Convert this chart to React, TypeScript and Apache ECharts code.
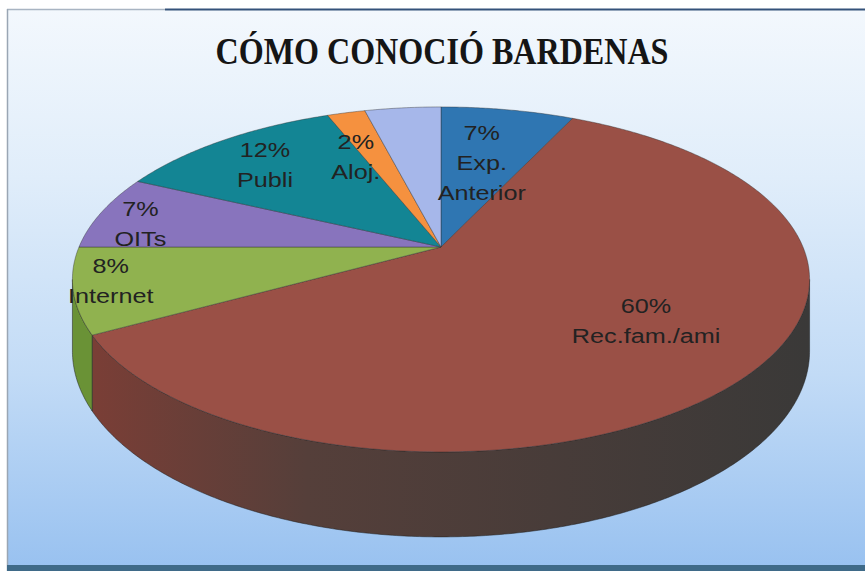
import React, { useEffect, useRef } from 'react';
import * as echarts from 'echarts';

// ---------- data ----------
const TITLE = 'CÓMO CONOCIÓ BARDENAS';
const categories = ['Exp. Anterior', 'Rec.fam./ami', 'Internet', 'OITs', 'Publi', 'Aloj.', 'Otros'];
const values = [7, 60, 8, 7, 12, 2, 4];
const labelNames = ['Exp.\nAnterior', 'Rec.fam./ami', 'Internet', 'OITs', 'Publi', 'Aloj.', ''];
const showLabel = [true, true, true, true, true, true, false];

// ---------- style ----------
const TOP_COLORS = ['#2f76b2', '#9a5046', '#90b24f', '#8874bd', '#138594', '#f5913f', '#a6b7ea'];
const SIDE_COLORS: any[] = [
  '#1f5280',
  new echarts.graphic.LinearGradient(0, 0, 1, 0, [
    { offset: 0, color: '#7a3e36' },
    { offset: 0.3, color: '#553f3a' },
    { offset: 1, color: '#3a3938' },
  ]),
  '#6a9236',
  '#5e5090',
  '#0c5e69',
  '#b86a2c',
  '#7a88b4',
];
// [radius fraction, angular nudge in degrees] for each slice label
const LABEL_PLACE = [
  [0.57, 0],
  [0.665, -5],
  [0.9, 2],
  [0.865, -3],
  [0.763, -1.4],
  [0.657, -5.5],
  [0, 0],
];

const W = 865;
const H = 571;
const CX = 441;
const CY = 247;
const RX = 362;
const RY = 166.4;
const K = 0.188; // perspective factor
const DEPTH = 69;

const total = values.reduce((a, b) => a + b, 0);
const prefix: number[] = [];
values.reduce((acc, v, i) => {
  prefix[i] = acc;
  return acc + v;
}, 0);

function proj(theta: number, rho: number, drop: number): number[] {
  const u = rho * Math.sin(theta);
  const v = -rho * Math.cos(theta);
  const s = 1 / (1 - K * v);
  return [CX + RX * u * s, CY + RY * v * s + drop * s];
}

const WALL_A = Math.acos(-K);
const WALL_B = 2 * Math.PI - Math.acos(-K);

function arc(a: number, b: number, drop: number): number[][] {
  const n = Math.max(2, Math.ceil((b - a) / (Math.PI / 360)));
  const pts: number[][] = [];
  for (let j = 0; j <= n; j++) {
    pts.push(proj(a + ((b - a) * j) / n, 1, drop));
  }
  return pts;
}

export default function App() {
  const ref = useRef<HTMLDivElement>(null);

  useEffect(() => {
    if (!ref.current) return;
    const chart = echarts.init(ref.current, null, { renderer: 'svg' });

    const renderItem = (params: any, api: any) => {
      const i = params.dataIndex;
      const v = api.value(0);
      const a = (prefix[i] / total) * Math.PI * 2;
      const b = a + (v / total) * Math.PI * 2;
      const children: any[] = [];

      const wa = Math.max(a, WALL_A);
      const wb = Math.min(b, WALL_B);
      if (wb > wa) {
        const topArc = arc(wa, wb, 0);
        const botArc = arc(wa, wb, DEPTH).reverse();
        children.push({
          type: 'polygon',
          z2: 1,
          shape: { points: topArc.concat(botArc) },
          style: { fill: SIDE_COLORS[i], stroke: 'rgba(30,30,30,0.5)', lineWidth: 1 },
        });
      }

      const face = [[CX, CY]].concat(arc(a, b, 0));
      children.push({
        type: 'polygon',
        z2: 10,
        shape: { points: face },
        style: { fill: TOP_COLORS[i], stroke: 'rgba(45,45,45,0.4)', lineWidth: 1 },
      });

      if (showLabel[i]) {
        const [rho, nudge] = LABEL_PLACE[i];
        const mid = (a + b) / 2 + (nudge * Math.PI) / 180;
        const p = proj(mid, rho, 0);
        children.push({
          type: 'text',
          z2: 20,
          x: p[0],
          y: p[1],
          scaleX: 1.2,
          style: {
            x: 0,
            y: 0,
            text: `${v}%\n${labelNames[i]}`,
            font: '21px "Liberation Sans", Arial, sans-serif',
            fill: '#222222',
            align: 'center',
            verticalAlign: 'middle',
            lineHeight: 30,
          },
        });
      }
      return { type: 'group', children };
    };

    chart.setOption({
      animation: false,
      backgroundColor: '#ffffff',
      graphic: [
        {
          type: 'rect',
          z: 0,
          shape: { x: 7, y: 9, width: W - 7, height: H - 9 },
          style: {
            fill: new echarts.graphic.LinearGradient(0, 0, 0, 1, [
              { offset: 0, color: '#f3f8fd' },
              { offset: 0.3, color: '#e0edfa' },
              { offset: 0.65, color: '#c2dbf6' },
              { offset: 1, color: '#98c1f0' },
            ]),
          },
        },
        {
          type: 'line',
          z: 1,
          shape: { x1: 7, y1: 9.5, x2: 165, y2: 9.5 },
          style: { stroke: '#a8b4c2', lineWidth: 1.5 },
        },
        {
          type: 'line',
          z: 1,
          shape: { x1: 165, y1: 9.5, x2: W, y2: 9.5 },
          style: { stroke: '#34527a', lineWidth: 2 },
        },
        {
          type: 'line',
          z: 1,
          shape: { x1: 7.5, y1: 9, x2: 7.5, y2: H },
          style: { stroke: '#9aa6b4', lineWidth: 1.5 },
        },
        {
          type: 'rect',
          z: 1,
          shape: { x: 7, y: 565, width: W - 7, height: 6 },
          style: { fill: '#3f6a88' },
        },
        {
          type: 'text',
          z: 5,
          x: 442,
          y: 52,
          scaleX: 0.845,
          style: {
            x: 0,
            y: 0,
            text: TITLE,
            font: 'bold 38px "Liberation Serif", "DejaVu Serif", serif',
            fill: '#151515',
            align: 'center',
            verticalAlign: 'middle',
          },
        },
      ],
      series: [
        {
          type: 'custom',
          coordinateSystem: 'none',
          renderItem,
          data: values.map((v, i) => ({ name: categories[i], value: [v, i] })),
        },
      ],
    });

    return () => chart.dispose();
  }, []);

  return (
    <div
      ref={ref}
      style={{ position: 'absolute', left: 0, top: 0, width: W, height: H }}
    />
  );
}
